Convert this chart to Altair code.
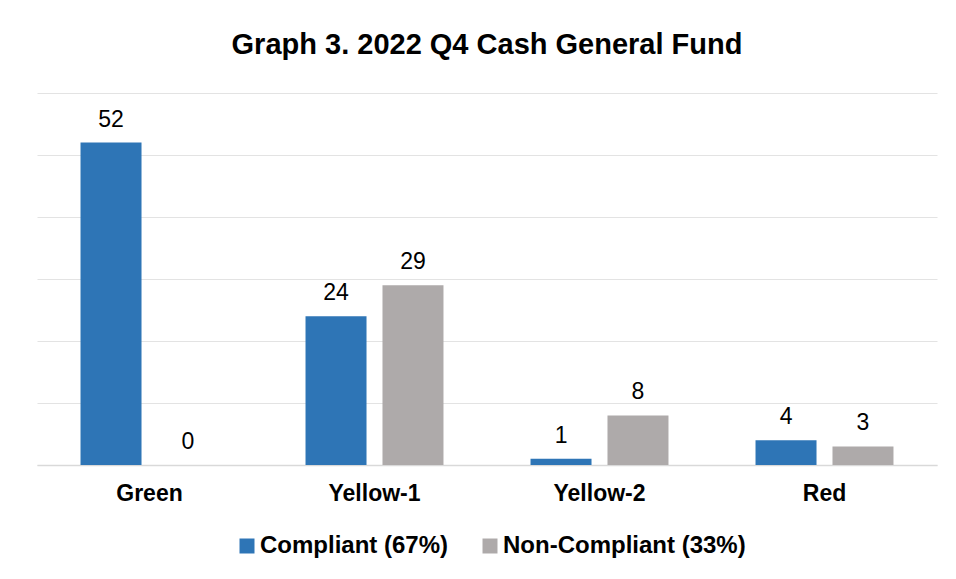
import altair as alt
import pandas as pd

categories = ["Green", "Yellow-1", "Yellow-2", "Red"]
series_names = ["Compliant (67%)", "Non-Compliant (33%)"]
compliant = [52, 24, 1, 4]
non_compliant = [0, 29, 8, 3]
colors = ["#2E75B6", "#AEAAAA"]

rows = []
for c, v in zip(categories, compliant):
    rows.append({"cat": c, "series": series_names[0], "value": v})
for c, v in zip(categories, non_compliant):
    rows.append({"cat": c, "series": series_names[1], "value": v})
df = pd.DataFrame(rows)

FONT = "Liberation Sans"

x = alt.X("cat:N", sort=categories, title=None,
          scale=alt.Scale(paddingInner=0.387, paddingOuter=0.1935),
          axis=alt.Axis(labelAngle=0, labelFontSize=23, labelFontWeight="bold",
                        labelColor="#000000", labelFont=FONT, labelPadding=17,
                        ticks=False, domainColor="#D9D9D9", domainWidth=1.5))
xo = alt.XOffset("series:N", sort=series_names,
                 scale=alt.Scale(paddingInner=0.208, paddingOuter=0))
y = alt.Y("value:Q", title=None,
          scale=alt.Scale(domain=[0, 60], nice=False),
          axis=alt.Axis(values=[0, 10, 20, 30, 40, 50, 60], labels=False, ticks=False,
                        domain=False, gridColor="#E3E3E3", gridWidth=1.2))
color = alt.Color("series:N", sort=series_names,
                  scale=alt.Scale(domain=series_names, range=colors),
                  legend=alt.Legend(title=None, orient="none", direction="horizontal",
                                    legendX=198, legendY=441,
                                    symbolType="square", symbolSize=225,
                                    symbolStrokeWidth=0, labelLimit=400,
                                    labelFontSize=24, labelFontWeight="bold",
                                    labelFont=FONT, labelColor="#000000",
                                    columnPadding=29, labelOffset=1))

bars = alt.Chart(df).mark_bar(size=61).encode(x=x, xOffset=xo, y=y, color=color)
labels = alt.Chart(df).mark_text(baseline="alphabetic", dy=-16, fontSize=23,
                                 font=FONT, color="#000000").encode(
    x=alt.X("cat:N", sort=categories), xOffset=xo, y="value:Q", text="value:Q")

chart = (bars + labels).properties(
    width=900, height=372, background="#FFFFFF",
    title=alt.Title("Graph 3. 2022 Q4 Cash General Fund", fontSize=29, font=FONT,
                    fontWeight="bold", color="#000000", offset=33),
    padding={"left": 29, "top": 23, "right": 10, "bottom": 5},
).configure_view(strokeWidth=0)

chart.save("out.html", embed_options={"renderer": "svg", "actions": False})
